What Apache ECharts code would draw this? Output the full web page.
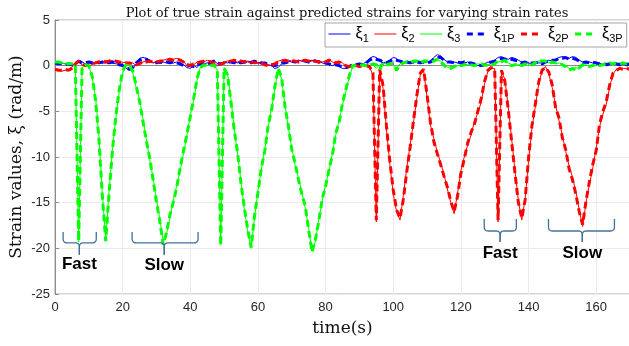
<!DOCTYPE html>
<html><head><meta charset="utf-8">
<script src="https://cdn.jsdelivr.net/npm/echarts@6/dist/echarts.min.js"></script>
<style>html,body{margin:0;padding:0;background:#fff}#c{width:629px;height:346px}</style>
</head><body><div id="c"></div>
<script>
// time samples (s)
const time = [0,1,2,3,4,5,6,7,8,9,10,11,12,13,14,15,16,17,18,19,20,21,22,23,24,25,26,27,28,29,30,31,32,33,34,35,36,37,38,39,40,41,42,43,44,45,46,47,48,49,50,51,52,53,54,55,56,57,58,59,60,61,62,63,64,65,66,67,68,69,70,71,72,73,74,75,76,77,78,79,80,81,82,83,84,85,86,87,88,89,90,91,92,93,94,95,96,97,98,99,100,101,102,103,104,105,106,107,108,109,110,111,112,113,114,115,116,117,118,119,120,121,122,123,124,125,126,127,128,129,130,131,132,133,134,135,136,137,138,139,140,141,142,143,144,145,146,147,148,149,150,151,152,153,154,155,156,157,158,159,160,161,162,163,164,165,166,167,168,169,170];

// true strains
const xi1 = [0.2,0.2,0.3,0.2,0.1,0.0,0.3,0.6,0.4,0.2,
 0.3,0.4,0.3,0.4,0.3,0.3,0.4,0.3,0.2,0.2,
 0.1,-0.3,-0.2,-0.3,0.2,0.8,0.9,0.8,0.6,0.3,
 0.4,0.3,0.4,0.3,0.4,0.3,0.4,0.3,0.1,-0.2,
 -0.3,0.0,-0.2,0.3,0.2,0.3,0.4,0.6,0.2,0.3,
 0.4,0.3,0.5,0.4,0.3,0.4,0.3,0.5,0.4,0.4,
 0.3,0.4,0.2,0.1,0.0,-0.3,-0.2,0.2,0.4,0.5,
 0.4,0.5,0.6,0.5,0.4,0.5,0.6,0.4,0.5,0.3,
 0.2,0.1,0.0,0.2,-0.1,-0.3,-0.3,-0.2,0.0,0.2,
 0.1,0.2,0.4,0.8,1.0,0.9,0.5,0.3,0.4,0.6,
 0.9,0.8,0.4,0.3,0.5,0.4,0.3,0.5,0.4,0.3,
 0.4,0.5,0.9,1.2,1.1,0.7,0.4,0.3,0.4,0.3,
 0.4,0.3,0.4,0.2,0.1,0.0,0.1,0.2,0.4,0.3,
 0.6,0.9,1.0,0.8,0.7,0.9,0.8,0.6,0.4,0.3,
 0.3,0.2,0.4,0.3,0.3,0.5,0.6,0.5,0.7,0.9,
 1.0,0.9,0.8,1.0,0.9,0.6,0.4,0.3,0.4,0.3,
 0.2,0.3,0.1,0.2,0.3,0.2,0.1,0.2,0.1,0.2,
 0.2];
const xi2 = [-0.5,-0.5,-0.6,-0.5,-0.4,-0.2,0.3,0.4,0.1,0.0,
 0.0,0.1,0.4,0.5,0.4,0.5,0.6,0.5,0.4,0.3,
 0.3,0.4,0.2,0.3,0.0,0.3,0.4,0.5,0.4,0.3,
 0.5,0.4,0.6,0.7,0.6,0.7,0.8,0.7,0.5,0.0,
 -0.1,0.1,0.4,0.5,0.4,0.6,0.5,0.3,0.0,0.1,
 0.4,0.5,0.6,0.5,0.4,0.6,0.5,0.4,0.3,0.4,
 0.3,0.2,0.0,0.1,0.0,0.3,0.5,0.6,0.5,0.6,
 0.5,0.4,0.5,0.6,0.5,0.4,0.5,0.6,0.5,0.4,
 0.5,0.7,0.4,0.2,0.5,0.3,-0.1,-0.2,0.0,-0.1,
 0.0,0.0,-0.1,-0.2,-1.0,-17.1,-0.5,-2.5,-7.0,-10.8,
 -14.0,-16.0,-16.9,-14.2,-11.2,-8.7,-6.2,-3.5,-1.0,-0.6,
 -3.5,-6.5,-8.0,-9.4,-10.6,-11.9,-13.5,-15.0,-16.2,-14.0,
 -11.5,-10.0,-8.7,-7.6,-6.1,-5.2,-4.0,-2.0,-0.6,-0.3,
 -0.3,-17.1,-0.6,-1.5,-4.5,-8.0,-11.5,-14.8,-16.9,-14.6,
 -10.5,-6.9,-4.5,-2.0,-0.6,-0.1,-0.9,-2.4,-4.3,-6.0,
 -7.6,-9.4,-11.0,-12.2,-13.8,-15.8,-17.6,-15.0,-13.0,-11.2,
 -9.0,-6.7,-5.3,-4.2,-2.3,-0.9,-0.4,-0.4,-0.3,-0.3,
 -0.3];
const xi3 = [0.4,0.3,0.3,0.2,0.2,0.1,0.0,-19.3,-0.2,0.0,
 0.0,-1.3,-3.5,-7.8,-14.0,-19.0,-13.7,-9.0,-5.7,-2.8,
 -0.8,0.0,0.1,-0.8,-2.4,-3.7,-5.8,-8.0,-10.3,-12.3,
 -14.6,-16.8,-19.3,-18.4,-16.6,-14.7,-13.1,-11.5,-9.6,-7.7,
 -5.4,-3.8,-1.6,-0.1,0.0,0.0,0.1,0.0,-0.5,-19.6,
 -0.2,-0.8,-3.6,-6.9,-9.8,-12.7,-15.8,-18.2,-20.0,-16.6,
 -13.7,-11.4,-9.2,-6.8,-4.7,-2.5,-0.4,-1.5,-4.3,-6.8,
 -9.0,-10.9,-12.3,-13.9,-15.6,-17.8,-20.3,-19.2,-16.8,-14.8,
 -13.0,-11.6,-9.6,-7.6,-6.0,-4.3,-2.8,-1.3,-0.1,0.1,
 0.1,0.2,0.1,0.2,0.1,-0.3,0.1,0.2,0.3,0.2,
 0.1,-0.3,0.2,0.4,0.3,0.5,0.4,0.6,0.5,0.4,
 0.4,0.5,0.6,0.6,0.5,0.2,-0.2,-0.1,-0.2,0.0,
 0.1,0.2,0.1,0.0,0.1,0.2,0.1,0.0,0.1,0.2,
 0.1,0.4,0.5,0.5,0.3,0.1,0.0,0.1,0.2,0.1,
 0.0,0.2,0.4,0.5,0.6,0.4,0.3,0.3,0.2,0.3,
 0.2,0.0,-0.3,-0.4,-0.2,-0.4,0.0,0.1,0.0,0.1,
 0.0,0.1,0.2,0.3,0.2,0.3,0.2,0.3,0.2,0.3,
 0.2];

// predicted strains
const xi1P = [0.3,0.2,0.2,0.1,0.2,0.1,0.2,0.5,0.3,0.3,
 0.4,0.3,0.4,0.3,0.4,0.4,0.3,0.4,0.3,0.1,
 0.0,-0.2,-0.4,-0.2,0.3,0.6,0.8,0.7,0.5,0.4,
 0.3,0.4,0.3,0.4,0.3,0.4,0.3,0.2,0.0,0.1,
 0.0,-0.1,0.1,0.2,0.3,0.2,0.3,0.5,0.3,0.2,
 0.3,0.4,0.4,0.3,0.4,0.3,0.4,0.4,0.3,0.5,
 0.4,0.3,0.3,0.2,0.1,0.0,0.1,0.3,0.3,0.4,
 0.5,0.4,0.5,0.6,0.5,0.4,0.5,0.5,0.4,0.4,
 0.3,0.2,0.1,0.1,0.0,-0.1,-0.2,-0.1,0.1,0.1,
 0.2,0.1,0.3,0.6,0.8,0.7,0.6,0.4,0.3,0.5,
 0.7,0.6,0.5,0.4,0.4,0.3,0.4,0.4,0.3,0.4,
 0.3,0.4,0.7,0.9,0.9,0.6,0.4,0.4,0.3,0.4,
 0.3,0.4,0.3,0.3,0.2,0.1,0.0,0.1,0.3,0.4,
 0.5,0.7,0.8,0.7,0.8,0.7,0.6,0.5,0.3,0.4,
 0.2,0.3,0.3,0.4,0.2,0.4,0.5,0.6,0.6,0.8,
 0.8,0.9,0.7,0.8,0.7,0.5,0.3,0.4,0.3,0.4,
 0.3,0.2,0.2,0.1,0.2,0.3,0.2,0.1,0.2,0.1,
 0.2];
const xi2P = [-0.4,-0.5,-0.5,-0.4,-0.5,-0.3,0.2,0.5,0.2,0.0,
 0.1,0.2,0.3,0.4,0.5,0.4,0.5,0.6,0.5,0.4,
 0.3,0.3,0.3,0.2,0.1,0.2,0.5,0.4,0.5,0.4,
 0.4,0.5,0.5,0.6,0.7,0.6,0.7,0.6,0.4,0.1,
 0.0,0.2,0.3,0.4,0.5,0.5,0.4,0.3,0.1,0.2,
 0.3,0.4,0.5,0.6,0.5,0.5,0.4,0.5,0.4,0.3,
 0.4,0.3,0.1,0.0,0.1,0.2,0.4,0.5,0.6,0.5,
 0.6,0.5,0.4,0.5,0.6,0.5,0.6,0.5,0.4,0.5,
 0.4,0.6,0.5,0.3,0.4,0.2,0.0,-0.1,-0.1,0.0,
 -0.1,0.0,0.0,-0.1,-0.8,-16.9,-0.4,-2.2,-6.6,-10.5,
 -13.6,-15.8,-16.7,-14.6,-11.6,-8.9,-6.0,-3.2,-0.8,-0.4,
 -3.2,-6.2,-8.3,-9.6,-10.8,-12.1,-13.3,-14.8,-16.0,-14.3,
 -11.8,-10.2,-8.5,-7.3,-6.4,-5.0,-3.6,-1.7,-0.5,-0.2,
 -0.4,-16.9,-0.5,-1.7,-4.8,-8.3,-11.8,-15.0,-16.7,-14.7,
 -10.1,-6.6,-4.2,-1.8,-0.5,-0.2,-0.7,-2.1,-4.6,-5.7,
 -7.9,-9.2,-11.3,-12.5,-14.1,-16.0,-17.4,-14.8,-12.7,-10.8,
 -9.3,-6.4,-5.0,-3.9,-2.1,-0.8,-0.5,-0.3,-0.4,-0.3,
 -0.4];
const xi3P = [0.4,0.4,0.3,0.3,0.2,0.2,0.1,-19.2,-0.3,0.1,
 0.0,-1.2,-3.8,-8.1,-14.3,-19.2,-13.9,-9.2,-5.5,-2.6,
 -0.6,0.1,0.0,-0.6,-2.2,-3.9,-6.1,-8.2,-10.1,-12.5,
 -14.9,-17.1,-19.6,-18.2,-16.3,-14.9,-13.3,-11.2,-9.3,-7.5,
 -5.6,-3.6,-1.4,-0.2,0.1,0.0,0.0,0.1,-0.6,-19.7,
 -0.3,-1.0,-3.9,-7.1,-9.6,-12.9,-15.6,-18.0,-19.9,-16.4,
 -13.9,-11.2,-9.4,-6.6,-4.9,-2.3,-0.3,-1.3,-4.5,-6.6,
 -9.2,-10.7,-12.5,-14.1,-15.4,-18.0,-20.4,-19.0,-17.0,-14.6,
 -13.2,-11.4,-9.8,-7.4,-6.2,-4.1,-2.6,-1.1,0.0,0.0,
 0.0,0.1,0.0,0.1,0.2,0.1,-0.4,0.3,0.1,0.2,
 0.2,-0.5,0.1,0.3,0.4,0.3,0.5,0.5,0.3,0.5,
 0.5,0.4,0.5,0.7,0.4,0.1,-0.3,-0.3,-0.1,0.1,
 0.0,0.1,0.2,0.1,0.0,0.1,0.2,0.1,0.0,0.1,
 0.2,0.5,0.4,0.6,0.2,0.0,0.1,0.2,0.0,0.2,
 0.1,0.1,0.3,0.6,0.5,0.5,0.2,0.4,0.3,0.2,
 0.1,-0.1,-0.5,-0.3,-0.5,-0.2,0.1,0.0,-0.1,0.0,
 0.1,0.0,0.1,0.2,0.3,0.2,0.3,0.2,0.3,0.2,
 0.3];

const seriesNames = ['ξ1','ξ2','ξ3','ξ1P','ξ2P','ξ3P'];
const titleText = 'Plot of true strain against predicted strains for varying strain rates';
const xName = 'time(s)';
const yName = 'Strain values, ξ (rad/m)';

// annotation braces (data coordinates)
const notes = [
  {text:'Fast', from:2.4,  to:12.2,  tip:7.2,   top:-18.2, mid:-19.4, end:-20.7, label:-21.8},
  {text:'Slow', from:22.8, to:42.3,  tip:32.3,  top:-18.2, mid:-19.4, end:-20.7, label:-21.9},
  {text:'Fast', from:126.9,to:136.4, tip:131.6, top:-16.8, mid:-18.1, end:-19.3, label:-20.5},
  {text:'Slow', from:145.9,to:165.4, tip:155.9, top:-16.8, mid:-18.1, end:-19.3, label:-20.5}
];

const chart = echarts.init(document.getElementById('c'), null, {renderer:'canvas'});
const pairs = arr => time.map((t,i)=>[t,arr[i]]);
const thin = (name, arr, color) => ({name, type:'line', data:pairs(arr), symbol:'none', showSymbol:false,
  lineStyle:{width:1,color}, itemStyle:{color}, animation:false, clip:true});
const thick = (name, arr, color) => ({name, type:'line', data:pairs(arr), symbol:'none', showSymbol:false,
  lineStyle:{width:3,color,type:[7,4]}, itemStyle:{color}, animation:false, clip:true});

const legendColors = ['#0000ff','#ff0000','#00ff00','#0000ff','#ff0000','#00ff00'];
const legendData = seriesNames.map((n,i) => ({
  name:n,
  itemStyle:{opacity:0},
  lineStyle: i < 3 ? {width:1, color:legendColors[i], type:'solid'} : {width:3, color:legendColors[i], type:[6,5]}
}));

const tickFont = {fontFamily:'Liberation Sans', fontSize:13, color:'#262626'};
const option = {
  backgroundColor:'#fff',
  animation:false,
  title:{text:titleText, left:342, top:2, textAlign:'center',
    textStyle:{fontFamily:'DejaVu Serif', fontSize:13, fontWeight:'normal', color:'#111'}},
  grid:{left:55, top:20, width:575, height:274, show:true, borderColor:'#a6a6a6', borderWidth:1,
    outerBoundsMode:'none', containLabel:false},
  legend:{data:legendData, left:325, top:23, orient:'horizontal', itemGap:5, itemWidth:22, itemHeight:10,
    padding:[3,4,3,3], backgroundColor:'#fff', borderColor:'#a6a6a6', borderWidth:1, borderRadius:0,
    formatter: n => '{a|ξ}{b|' + n.slice(1) + '}',
    textStyle:{color:'#000', rich:{
      a:{fontFamily:'Liberation Sans', fontSize:16, color:'#000', lineHeight:20},
      b:{fontFamily:'Liberation Sans', fontSize:11, color:'#000', verticalAlign:'bottom', lineHeight:20, padding:[7,0,0,0]}
    }}},
  xAxis:{type:'value', min:0, max:170, interval:20,
    name:xName, nameLocation:'middle', nameGap:26, nameMoveOverlap:false,
    nameTextStyle:{fontFamily:'DejaVu Serif', fontSize:17, color:'#111'},
    axisLine:{show:true, lineStyle:{color:'#8c8c8c'}},
    axisTick:{show:true, inside:true, length:4, lineStyle:{color:'#8c8c8c'}},
    axisLabel:Object.assign({margin:7, showMaxLabel:false}, tickFont),
    splitLine:{show:true, lineStyle:{color:'#ebebeb'}}},
  yAxis:{type:'value', min:-25, max:5, interval:5,
    name:yName, nameLocation:'middle', nameGap:30, nameRotate:90, nameMoveOverlap:false,
    nameTextStyle:{fontFamily:'DejaVu Serif', fontSize:17, color:'#111'},
    axisLine:{show:true, lineStyle:{color:'#8c8c8c'}},
    axisTick:{show:true, inside:true, length:4, lineStyle:{color:'#8c8c8c'}},
    axisLabel:Object.assign({margin:5}, tickFont),
    splitLine:{show:true, lineStyle:{color:'#ebebeb'}}},
  series:[
    thin(seriesNames[0], xi1, '#0000ff'),
    thin(seriesNames[1], xi2, '#ff0000'),
    thin(seriesNames[2], xi3, '#00ff00'),
    thick(seriesNames[3], xi1P, '#0000ff'),
    thick(seriesNames[4], xi2P, '#ff0000'),
    thick(seriesNames[5], xi3P, '#00ff00')
  ]
};
chart.setOption(option);

const px = (t,v) => chart.convertToPixel({gridIndex:0},[t,v]);
// quadratic corner helper for the brace outline
function quad(p0, c, p1, steps){
  const out = [];
  for (let k = 1; k <= steps; k++){
    const s = k/steps, a = (1-s)*(1-s), b = 2*(1-s)*s, d = s*s;
    out.push([a*p0[0]+b*c[0]+d*p1[0], a*p0[1]+b*c[1]+d*p1[1]]);
  }
  return out;
}
const graphics = [];
notes.forEach(n => {
  const L = px(n.from, n.top), R = px(n.to, n.top), M = px(n.tip, n.mid), E = px(n.tip, n.end), T = px(n.tip, n.label);
  const r = 4, ym = M[1], xc = M[0];
  const half = (x0, dir) => {
    let pts = [[x0, L[1]], [x0, ym - r]];
    pts = pts.concat(quad([x0, ym - r], [x0, ym], [x0 + dir*r, ym], 6));
    pts.push([xc - dir*r, ym]);
    pts = pts.concat(quad([xc - dir*r, ym], [xc, ym], [xc, ym + r], 6));
    pts.push([xc, E[1]]);
    return pts;
  };
  graphics.push({type:'polyline', shape:{points:half(L[0], 1)}, style:{fill:null, stroke:'#41719c', lineWidth:1.3}, z:10});
  graphics.push({type:'polyline', shape:{points:half(R[0], -1)}, style:{fill:null, stroke:'#41719c', lineWidth:1.3}, z:10});
  graphics.push({type:'text', x:T[0], y:T[1], style:{text:n.text, fill:'#000', font:'bold 17px "Liberation Sans"', textAlign:'center', textVerticalAlign:'middle'}, z:10});
});
chart.setOption({graphic:graphics});
</script>
</body></html>
